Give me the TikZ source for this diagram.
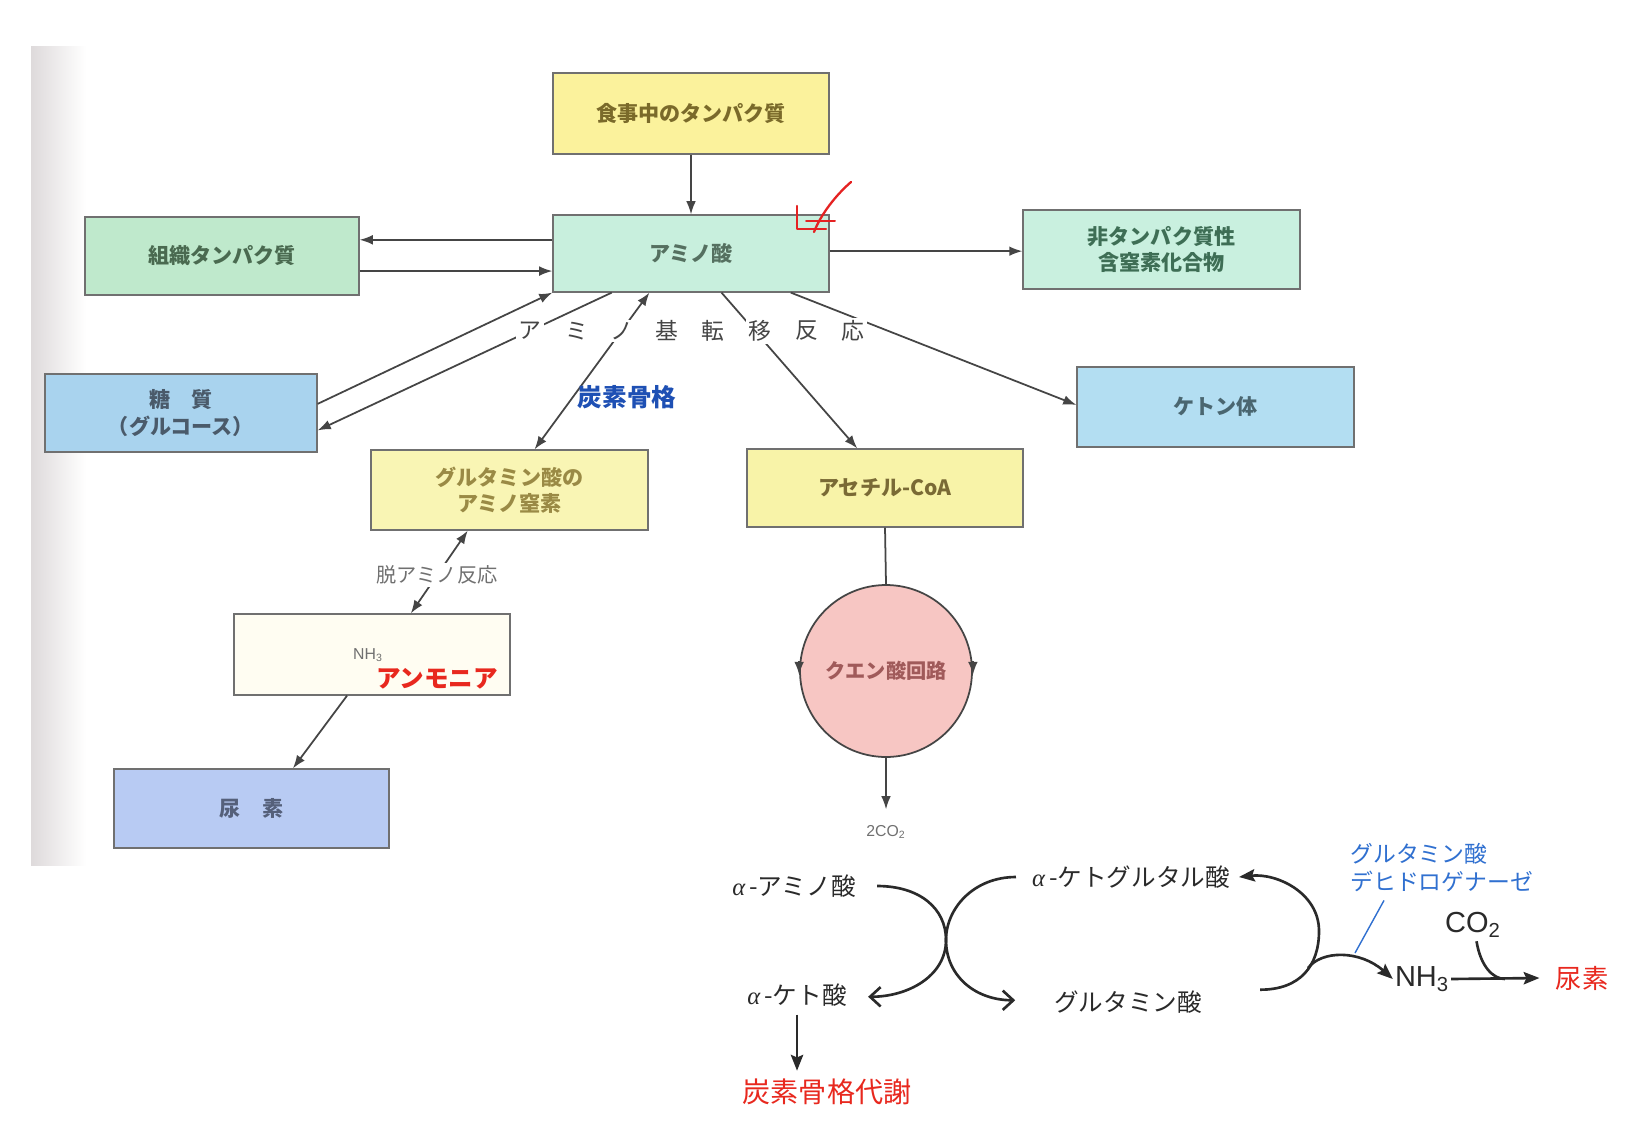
\documentclass[tikz,border=0pt]{standalone}
\usepackage{fontspec}
\setmainfont{Liberation Sans}
\newfontfamily\jp{Noto Sans CJK JP}
\newfontfamily\greekserif{Liberation Serif}
\usetikzlibrary{arrows.meta,calc}

% fills
\definecolor{cFood}{HTML}{FBF29C}
\definecolor{cAmino}{HTML}{C8EFDD}
\definecolor{cTissue}{HTML}{BFE9CC}
\definecolor{cNon}{HTML}{C9F0DF}
\definecolor{cKet}{HTML}{B3DEF2}
\definecolor{cGlc}{HTML}{A9D3EE}
\definecolor{cGlu}{HTML}{F9F5B4}
\definecolor{cAcet}{HTML}{F8F3A8}
\definecolor{cAmm}{HTML}{FFFDF2}
\definecolor{cUrea}{HTML}{B8CBF3}
\definecolor{cTca}{HTML}{F7C6C3}
\definecolor{cShade}{HTML}{DEDADB}
% strokes and text
\definecolor{boxline}{HTML}{707070}
\definecolor{lineC}{HTML}{454545}
\definecolor{tFood}{HTML}{7A6A2A}
\definecolor{tAmino}{HTML}{557060}
\definecolor{tTissue}{HTML}{4A6A50}
\definecolor{tNon}{HTML}{3E6E55}
\definecolor{tKet}{HTML}{4A6670}
\definecolor{tGlc}{HTML}{4A5A6A}
\definecolor{tGlu}{HTML}{9A8A45}
\definecolor{tAcet}{HTML}{7A6A35}
\definecolor{tUrea}{HTML}{55607A}
\definecolor{tTca}{HTML}{A05A5A}
\definecolor{tGray}{HTML}{454545}
\definecolor{tLight}{HTML}{707070}
\definecolor{tBlue}{HTML}{1E50B4}
\definecolor{tEnz}{HTML}{3070D0}
\definecolor{tRed}{HTML}{E8281E}
\definecolor{ink}{HTML}{2A2A2A}
\definecolor{pen}{HTML}{E52222}

\newcommand{\al}{{\greekserif\itshape α}\,}

\begin{document}
\begin{tikzpicture}[x=0.02cm,y=-0.02cm,
  box/.style={draw=boxline, line width=0.7pt, minimum width=5.52cm,
    minimum height=1.56cm, inner sep=0pt, align=center,
    font=\jp\bfseries\fontsize{12}{15}\selectfont},
  conn/.style={draw=lineC, line width=1pt, -{Latex[length=7.5pt,width=5.5pt]}},
  conntwo/.style={draw=lineC, line width=1pt, {Latex[length=7.5pt,width=5.5pt]}-{Latex[length=7.5pt,width=5.5pt]}},
  plain/.style={draw=lineC, line width=1pt},
  trans/.style={font=\jp\fontsize{13}{14}\selectfont, text=tGray, fill=white, inner sep=1.5pt},
  chem/.style={font=\jp\fontsize{14}{16}\selectfont, text=ink, inner sep=0pt},
  arcarrow/.style={draw=ink, line width=1.5pt, -{Straight Barb[length=6pt,width=11pt]}},
  solid/.style={draw=ink, line width=1.5pt, -{Stealth[length=9pt,width=7pt,inset=1.5pt]}},
]
\useasboundingbox (0,0) rectangle (1631,1125);
\fill[white] (0,0) rectangle (1631,1125);
% shadow along the page edge
\shade[left color=cShade, right color=white] (31,47) rectangle (86,865);

% ---------- boxes ----------
\node[box, fill=cFood, text=tFood, minimum height=1.62cm] (food) at (691,113.5) {食事中のタンパク質};
\node[box, fill=cAmino, text=tAmino, minimum height=1.54cm] (amino) at (691,253.5) {アミノ酸};
\node[box, fill=cTissue, text=tTissue, minimum width=5.48cm] (tissue) at (222,256) {組織タンパク質};
\node[box, fill=cNon, text=tNon, minimum width=5.54cm, minimum height=1.58cm] (nonprot) at (1161.5,249.5) {非タンパク質性\\含窒素化合物};
\node[box, fill=cKet, text=tKet, minimum width=5.54cm, minimum height=1.6cm] (ketone) at (1215.5,407) {ケトン体};
\node[box, fill=cGlc, text=tGlc, minimum width=5.44cm] (glucose) at (181,413) {糖　質\\（グルコース）};
\node[box, fill=cGlu, text=tGlu, minimum width=5.54cm, minimum height=1.6cm] (glutbox) at (509.5,490) {グルタミン酸の\\アミノ窒素};
\node[box, fill=cAcet, text=tAcet] (acetyl) at (885,488) {アセチル-CoA};
\node[box, fill=cAmm, minimum height=1.62cm] (ammonia) at (372,654.5) {};
\node[box, fill=cUrea, text=tUrea, minimum width=5.5cm, minimum height=1.58cm] (urea) at (251.5,808.5) {尿　素};
\node[circle, draw=lineC, line width=1pt, fill=cTca, minimum size=3.44cm, inner sep=0pt,
      text=tTca, font=\jp\bfseries\fontsize{11.5}{14}\selectfont] (tca) at (886,671) {クエン酸回路};
\node[font=\fontsize{9}{11}\selectfont, text=tLight, inner sep=0pt] (co2a) at (886,832) {2CO\textsubscript{2}};

% ---------- connectors of the upper scheme ----------
\draw[conn] (food) -- (amino);
\coordinate (a1) at ($(amino.north west)!0.325!(amino.south west)$);
\draw[conn] (a1) -- (a1 -| tissue.east);
\coordinate (t1) at ($(tissue.north east)!0.69!(tissue.south east)$);
\draw[conn] (t1) -- (t1 -| amino.west);
\coordinate (a2) at ($(amino.north east)!0.47!(amino.south east)$);
\draw[conn] (a2) -- (a2 -| nonprot.west);
\draw[conn] ($(glucose.north east)!0.385!(glucose.south east)$) -- (amino.south west);
\draw[conn] ($(amino.south west)!0.214!(amino.south east)$) -- ($(glucose.north east)!0.72!(glucose.south east)$);
\draw[conntwo] ($(glutbox.north west)!0.59!(glutbox.north east)$) -- ($(amino.south west)!0.35!(amino.south east)$);
\draw[conn] ($(amino.south west)!0.61!(amino.south east)$) -- ($(acetyl.north west)!0.40!(acetyl.north east)$);
\draw[conn] ($(amino.south west)!0.86!(amino.south east)$) -- ($(ketone.north west)!0.475!(ketone.south west)$);
\draw[conntwo] ($(glutbox.south west)!0.35!(glutbox.south east)$) -- ($(ammonia.north west)!0.64!(ammonia.north east)$);
\draw[conn] ($(ammonia.south west)!0.41!(ammonia.south east)$) -- ($(urea.north west)!0.65!(urea.north east)$);
\draw[plain] (acetyl.south) -- (tca.north);
\draw[conn] ($(tca.west)+(0,-10)$) -- ($(tca.west)+(0,4)$);
\draw[conn] ($(tca.east)+(0,-10)$) -- ($(tca.east)+(0,4)$);
\draw[conn, shorten >=9pt] (tca.south) -- (co2a.north);

% ---------- labels of the upper scheme ----------
\foreach \c/\x [count=\i] in {ア/530, ミ/577, ノ/622, 基/667, 転/713, 移/760, 反/807, 応/853}
  \node[trans] (tr\i) at (\x,331) {\c};
\node[font=\jp\bfseries\fontsize{14}{16}\selectfont, text=tBlue] (cskel) at (627,397) {炭素骨格};
\node[font=\jp\fontsize{11.5}{14}\selectfont, text=tLight, fill=white, inner sep=1.5pt] (deam) at (437,575) {脱アミノ反応};
\node[font=\fontsize{9}{11}\selectfont, text=tLight, inner sep=0pt] (nh3a) at (368,655) {NH\textsubscript{3}};
\node[font=\jp\bfseries\fontsize{14}{16}\selectfont, text=tRed, inner sep=0pt] (ammtext) at (437,679) {アンモニア};

% hand-drawn check mark
\draw[pen, line width=1.3pt, line cap=round, line join=round] (797,206) -- (797,229) -- (826,229);
\draw[pen, line width=1.3pt, line cap=round] (851,182) .. controls (836,195) and (821,214) .. (814,232);
\draw[pen, line width=1.1pt, line cap=round] (806,221) -- (835,221);

% ---------- transamination scheme ----------
\node[chem] (aam) at (794,886) {\al-アミノ酸};
\node[chem] (akg) at (1131,877) {\al-ケトグルタル酸};
\node[chem] (aka) at (797,995) {\al-ケト酸};
\node[chem] (glu) at (1128,1002) {グルタミン酸};
\node[font=\jp\fontsize{16}{18}\selectfont, text=tRed, inner sep=0pt] (cmet) at (827,1092) {炭素骨格代謝};
\node[font=\jp\fontsize{13}{16}\selectfont, text=tEnz, align=left, anchor=north west, inner sep=0pt] (enz) at (1350,843) {グルタミン酸\\デヒドロゲナーゼ};
\node[font=\fontsize{16.5}{18}\selectfont, text=ink, inner sep=0pt] (nh3) at (1422,979) {NH\textsubscript{3}};
\node[font=\fontsize{16.5}{18}\selectfont, text=ink, inner sep=0pt] (co2b) at (1473,925) {CO\textsubscript{2}};
\node[font=\jp\fontsize{15}{18}\selectfont, text=tRed, inner sep=0pt] (urea2) at (1582,978) {尿素};

\coordinate (xc) at (946,940);
\draw[arcarrow] ([xshift=12pt]aam.east) .. controls +(42,0) and +(0,-32) .. (xc)
   .. controls +(0,36) and +(-40,0) .. ([xshift=-22pt,yshift=1pt]glu.west);
\draw[arcarrow] ([xshift=-9pt]akg.west) .. controls +(-42,0) and +(0,-32) .. (xc)
   .. controls +(0,36) and +(40,0) .. ([xshift=12pt,yshift=-1pt]aka.east);
\draw[solid] (aka.south) ++(0,8) -- ($(aka.south |- cmet.north)+(0,-8)$);

\coordinate (rc) at (1319,931);
\coordinate (br) at (1308,968);
\draw[solid] ([xshift=33pt,yshift=7pt]glu.east) .. controls +(40,0) and +(0,35) .. (rc)
   .. controls +(0,-38) and +(38,-4) .. ([xshift=5pt]akg.east);
\draw[solid] (br) .. controls (1322,950) and (1360,950) .. ([xshift=-1pt]nh3.west);
\coordinate (jn) at (1505,979);
\draw[solid] ([xshift=1pt]nh3.east) -- ([xshift=-9pt]urea2.west);
\draw[draw=ink, line width=1.5pt] ([xshift=2pt,yshift=-2pt]co2b.south) .. controls +(4,25) and +(-12,0) .. (jn);
\coordinate (ptr) at (1355,953);
\draw[draw=tEnz, line width=0.8pt] ($(enz.south west)+(34,8)$) -- (ptr);
\end{tikzpicture}
\end{document}
